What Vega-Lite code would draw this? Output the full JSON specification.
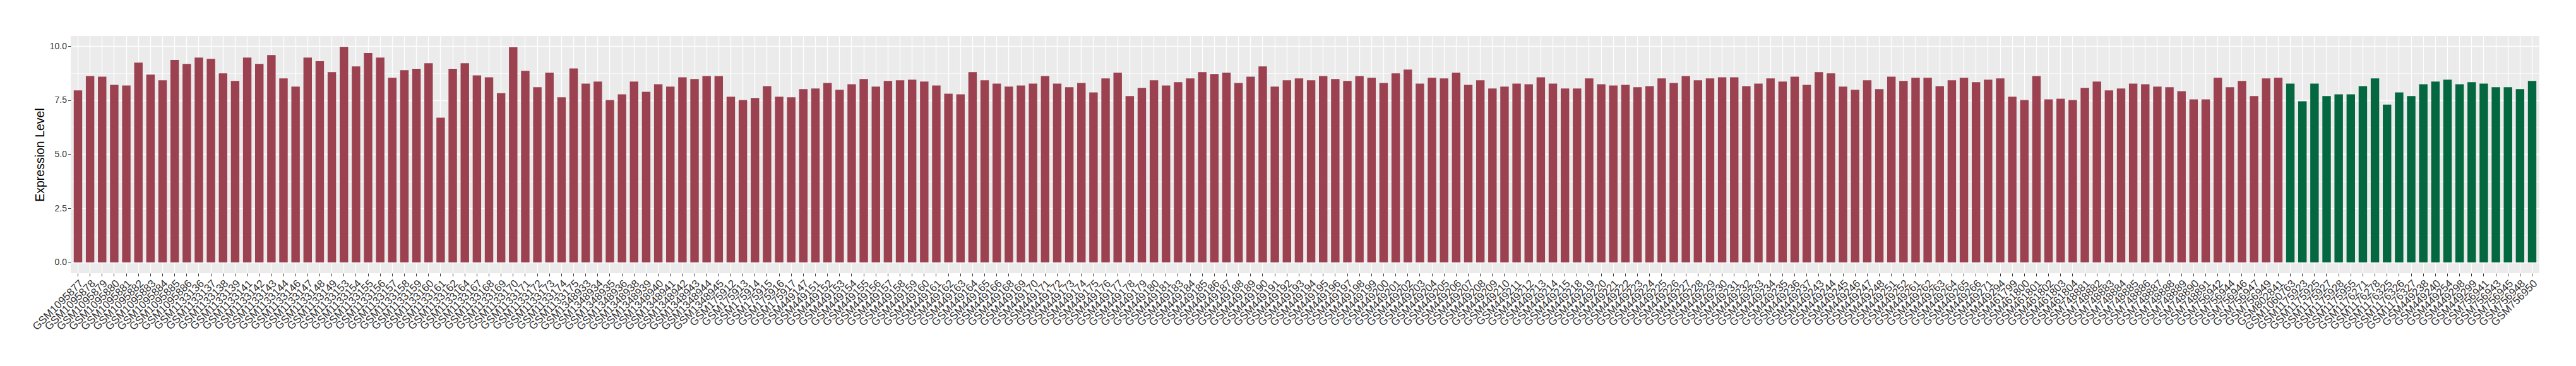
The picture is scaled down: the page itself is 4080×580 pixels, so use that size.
{
"$schema": "https://vega.github.io/schema/vega-lite/v6.json",
"width": 3910,
"height": 376,
"autosize": {"type": "none"},
"padding": {"left": 112, "top": 57, "right": 58, "bottom": 147},
"background": "white",
"config": {
  "view": {"fill": "#EBEBEB", "stroke": null},
  "axis": {"domain": false, "gridColor": "#FFFFFF", "tickColor": "#333333", "labelColor": "#4D4D4D", "labelFont": "Liberation Sans", "titleFont": "Liberation Sans"}
},
"data": {"values": [
{"sample":"GSM1095877","expression":7.95,"group":"Group 1"},
{"sample":"GSM1095878","expression":8.62,"group":"Group 1"},
{"sample":"GSM1095879","expression":8.59,"group":"Group 1"},
{"sample":"GSM1095880","expression":8.21,"group":"Group 1"},
{"sample":"GSM1095881","expression":8.18,"group":"Group 1"},
{"sample":"GSM1095882","expression":9.24,"group":"Group 1"},
{"sample":"GSM1095883","expression":8.68,"group":"Group 1"},
{"sample":"GSM1095884","expression":8.42,"group":"Group 1"},
{"sample":"GSM1095885","expression":9.36,"group":"Group 1"},
{"sample":"GSM1095886","expression":9.18,"group":"Group 1"},
{"sample":"GSM1133136","expression":9.47,"group":"Group 1"},
{"sample":"GSM1133137","expression":9.41,"group":"Group 1"},
{"sample":"GSM1133138","expression":8.74,"group":"Group 1"},
{"sample":"GSM1133139","expression":8.39,"group":"Group 1"},
{"sample":"GSM1133141","expression":9.47,"group":"Group 1"},
{"sample":"GSM1133142","expression":9.18,"group":"Group 1"},
{"sample":"GSM1133143","expression":9.59,"group":"Group 1"},
{"sample":"GSM1133144","expression":8.51,"group":"Group 1"},
{"sample":"GSM1133146","expression":8.13,"group":"Group 1"},
{"sample":"GSM1133147","expression":9.47,"group":"Group 1"},
{"sample":"GSM1133148","expression":9.30,"group":"Group 1"},
{"sample":"GSM1133149","expression":8.80,"group":"Group 1"},
{"sample":"GSM1133153","expression":9.97,"group":"Group 1"},
{"sample":"GSM1133154","expression":9.06,"group":"Group 1"},
{"sample":"GSM1133155","expression":9.68,"group":"Group 1"},
{"sample":"GSM1133156","expression":9.47,"group":"Group 1"},
{"sample":"GSM1133157","expression":8.54,"group":"Group 1"},
{"sample":"GSM1133158","expression":8.89,"group":"Group 1"},
{"sample":"GSM1133159","expression":8.95,"group":"Group 1"},
{"sample":"GSM1133160","expression":9.21,"group":"Group 1"},
{"sample":"GSM1133161","expression":6.69,"group":"Group 1"},
{"sample":"GSM1133162","expression":8.95,"group":"Group 1"},
{"sample":"GSM1133164","expression":9.21,"group":"Group 1"},
{"sample":"GSM1133167","expression":8.65,"group":"Group 1"},
{"sample":"GSM1133168","expression":8.56,"group":"Group 1"},
{"sample":"GSM1133169","expression":7.83,"group":"Group 1"},
{"sample":"GSM1133170","expression":9.95,"group":"Group 1"},
{"sample":"GSM1133171","expression":8.86,"group":"Group 1"},
{"sample":"GSM1133172","expression":8.10,"group":"Group 1"},
{"sample":"GSM1133173","expression":8.77,"group":"Group 1"},
{"sample":"GSM1133174","expression":7.63,"group":"Group 1"},
{"sample":"GSM1133175","expression":8.97,"group":"Group 1"},
{"sample":"GSM1348933","expression":8.27,"group":"Group 1"},
{"sample":"GSM1348934","expression":8.36,"group":"Group 1"},
{"sample":"GSM1348935","expression":7.51,"group":"Group 1"},
{"sample":"GSM1348936","expression":7.77,"group":"Group 1"},
{"sample":"GSM1348938","expression":8.36,"group":"Group 1"},
{"sample":"GSM1348939","expression":7.89,"group":"Group 1"},
{"sample":"GSM1348940","expression":8.24,"group":"Group 1"},
{"sample":"GSM1348941","expression":8.13,"group":"Group 1"},
{"sample":"GSM1348942","expression":8.56,"group":"Group 1"},
{"sample":"GSM1348943","expression":8.48,"group":"Group 1"},
{"sample":"GSM1348944","expression":8.62,"group":"Group 1"},
{"sample":"GSM1348945","expression":8.62,"group":"Group 1"},
{"sample":"GSM175912","expression":7.66,"group":"Group 1"},
{"sample":"GSM175913","expression":7.51,"group":"Group 1"},
{"sample":"GSM175914","expression":7.60,"group":"Group 1"},
{"sample":"GSM175915","expression":8.15,"group":"Group 1"},
{"sample":"GSM175916","expression":7.66,"group":"Group 1"},
{"sample":"GSM175917","expression":7.63,"group":"Group 1"},
{"sample":"GSM449147","expression":8.01,"group":"Group 1"},
{"sample":"GSM449151","expression":8.04,"group":"Group 1"},
{"sample":"GSM449152","expression":8.30,"group":"Group 1"},
{"sample":"GSM449153","expression":7.98,"group":"Group 1"},
{"sample":"GSM449154","expression":8.24,"group":"Group 1"},
{"sample":"GSM449155","expression":8.48,"group":"Group 1"},
{"sample":"GSM449156","expression":8.13,"group":"Group 1"},
{"sample":"GSM449157","expression":8.39,"group":"Group 1"},
{"sample":"GSM449158","expression":8.42,"group":"Group 1"},
{"sample":"GSM449159","expression":8.45,"group":"Group 1"},
{"sample":"GSM449160","expression":8.36,"group":"Group 1"},
{"sample":"GSM449161","expression":8.18,"group":"Group 1"},
{"sample":"GSM449162","expression":7.80,"group":"Group 1"},
{"sample":"GSM449163","expression":7.77,"group":"Group 1"},
{"sample":"GSM449164","expression":8.80,"group":"Group 1"},
{"sample":"GSM449165","expression":8.42,"group":"Group 1"},
{"sample":"GSM449166","expression":8.27,"group":"Group 1"},
{"sample":"GSM449168","expression":8.13,"group":"Group 1"},
{"sample":"GSM449169","expression":8.18,"group":"Group 1"},
{"sample":"GSM449170","expression":8.27,"group":"Group 1"},
{"sample":"GSM449171","expression":8.62,"group":"Group 1"},
{"sample":"GSM449172","expression":8.27,"group":"Group 1"},
{"sample":"GSM449173","expression":8.10,"group":"Group 1"},
{"sample":"GSM449174","expression":8.30,"group":"Group 1"},
{"sample":"GSM449175","expression":7.86,"group":"Group 1"},
{"sample":"GSM449176","expression":8.51,"group":"Group 1"},
{"sample":"GSM449177","expression":8.77,"group":"Group 1"},
{"sample":"GSM449178","expression":7.69,"group":"Group 1"},
{"sample":"GSM449179","expression":8.07,"group":"Group 1"},
{"sample":"GSM449180","expression":8.42,"group":"Group 1"},
{"sample":"GSM449181","expression":8.18,"group":"Group 1"},
{"sample":"GSM449183","expression":8.33,"group":"Group 1"},
{"sample":"GSM449184","expression":8.51,"group":"Group 1"},
{"sample":"GSM449185","expression":8.80,"group":"Group 1"},
{"sample":"GSM449186","expression":8.71,"group":"Group 1"},
{"sample":"GSM449187","expression":8.77,"group":"Group 1"},
{"sample":"GSM449188","expression":8.30,"group":"Group 1"},
{"sample":"GSM449189","expression":8.59,"group":"Group 1"},
{"sample":"GSM449190","expression":9.06,"group":"Group 1"},
{"sample":"GSM449191","expression":8.13,"group":"Group 1"},
{"sample":"GSM449192","expression":8.42,"group":"Group 1"},
{"sample":"GSM449193","expression":8.51,"group":"Group 1"},
{"sample":"GSM449194","expression":8.42,"group":"Group 1"},
{"sample":"GSM449195","expression":8.62,"group":"Group 1"},
{"sample":"GSM449196","expression":8.48,"group":"Group 1"},
{"sample":"GSM449197","expression":8.39,"group":"Group 1"},
{"sample":"GSM449198","expression":8.62,"group":"Group 1"},
{"sample":"GSM449199","expression":8.54,"group":"Group 1"},
{"sample":"GSM449200","expression":8.30,"group":"Group 1"},
{"sample":"GSM449201","expression":8.74,"group":"Group 1"},
{"sample":"GSM449202","expression":8.92,"group":"Group 1"},
{"sample":"GSM449203","expression":8.27,"group":"Group 1"},
{"sample":"GSM449204","expression":8.54,"group":"Group 1"},
{"sample":"GSM449205","expression":8.51,"group":"Group 1"},
{"sample":"GSM449206","expression":8.77,"group":"Group 1"},
{"sample":"GSM449207","expression":8.21,"group":"Group 1"},
{"sample":"GSM449208","expression":8.42,"group":"Group 1"},
{"sample":"GSM449209","expression":8.04,"group":"Group 1"},
{"sample":"GSM449210","expression":8.13,"group":"Group 1"},
{"sample":"GSM449211","expression":8.27,"group":"Group 1"},
{"sample":"GSM449212","expression":8.24,"group":"Group 1"},
{"sample":"GSM449213","expression":8.56,"group":"Group 1"},
{"sample":"GSM449214","expression":8.27,"group":"Group 1"},
{"sample":"GSM449215","expression":8.04,"group":"Group 1"},
{"sample":"GSM449218","expression":8.04,"group":"Group 1"},
{"sample":"GSM449219","expression":8.51,"group":"Group 1"},
{"sample":"GSM449220","expression":8.24,"group":"Group 1"},
{"sample":"GSM449221","expression":8.18,"group":"Group 1"},
{"sample":"GSM449222","expression":8.21,"group":"Group 1"},
{"sample":"GSM449223","expression":8.10,"group":"Group 1"},
{"sample":"GSM449224","expression":8.15,"group":"Group 1"},
{"sample":"GSM449225","expression":8.51,"group":"Group 1"},
{"sample":"GSM449226","expression":8.30,"group":"Group 1"},
{"sample":"GSM449227","expression":8.62,"group":"Group 1"},
{"sample":"GSM449228","expression":8.42,"group":"Group 1"},
{"sample":"GSM449229","expression":8.51,"group":"Group 1"},
{"sample":"GSM449230","expression":8.56,"group":"Group 1"},
{"sample":"GSM449231","expression":8.56,"group":"Group 1"},
{"sample":"GSM449232","expression":8.15,"group":"Group 1"},
{"sample":"GSM449233","expression":8.27,"group":"Group 1"},
{"sample":"GSM449234","expression":8.51,"group":"Group 1"},
{"sample":"GSM449235","expression":8.36,"group":"Group 1"},
{"sample":"GSM449236","expression":8.59,"group":"Group 1"},
{"sample":"GSM449237","expression":8.21,"group":"Group 1"},
{"sample":"GSM449243","expression":8.80,"group":"Group 1"},
{"sample":"GSM449244","expression":8.74,"group":"Group 1"},
{"sample":"GSM449245","expression":8.13,"group":"Group 1"},
{"sample":"GSM449246","expression":7.98,"group":"Group 1"},
{"sample":"GSM449247","expression":8.42,"group":"Group 1"},
{"sample":"GSM449248","expression":8.01,"group":"Group 1"},
{"sample":"GSM449251","expression":8.59,"group":"Group 1"},
{"sample":"GSM449252","expression":8.39,"group":"Group 1"},
{"sample":"GSM449261","expression":8.54,"group":"Group 1"},
{"sample":"GSM449262","expression":8.54,"group":"Group 1"},
{"sample":"GSM449263","expression":8.15,"group":"Group 1"},
{"sample":"GSM449264","expression":8.42,"group":"Group 1"},
{"sample":"GSM449265","expression":8.54,"group":"Group 1"},
{"sample":"GSM449266","expression":8.33,"group":"Group 1"},
{"sample":"GSM449271","expression":8.45,"group":"Group 1"},
{"sample":"GSM449294","expression":8.51,"group":"Group 1"},
{"sample":"GSM461799","expression":7.66,"group":"Group 1"},
{"sample":"GSM461800","expression":7.51,"group":"Group 1"},
{"sample":"GSM461801","expression":8.62,"group":"Group 1"},
{"sample":"GSM461802","expression":7.54,"group":"Group 1"},
{"sample":"GSM461803","expression":7.57,"group":"Group 1"},
{"sample":"GSM461804","expression":7.51,"group":"Group 1"},
{"sample":"GSM748881","expression":8.07,"group":"Group 1"},
{"sample":"GSM748882","expression":8.36,"group":"Group 1"},
{"sample":"GSM748883","expression":7.95,"group":"Group 1"},
{"sample":"GSM748884","expression":8.04,"group":"Group 1"},
{"sample":"GSM748885","expression":8.27,"group":"Group 1"},
{"sample":"GSM748886","expression":8.24,"group":"Group 1"},
{"sample":"GSM748887","expression":8.13,"group":"Group 1"},
{"sample":"GSM748888","expression":8.10,"group":"Group 1"},
{"sample":"GSM748889","expression":7.92,"group":"Group 1"},
{"sample":"GSM748890","expression":7.54,"group":"Group 1"},
{"sample":"GSM748891","expression":7.54,"group":"Group 1"},
{"sample":"GSM756942","expression":8.54,"group":"Group 1"},
{"sample":"GSM756944","expression":8.10,"group":"Group 1"},
{"sample":"GSM756946","expression":8.39,"group":"Group 1"},
{"sample":"GSM756947","expression":7.69,"group":"Group 1"},
{"sample":"GSM756949","expression":8.51,"group":"Group 1"},
{"sample":"GSM802841","expression":8.54,"group":"Group 1"},
{"sample":"GSM1060763","expression":8.27,"group":"Group 2"},
{"sample":"GSM1175923","expression":7.45,"group":"Group 2"},
{"sample":"GSM1175925","expression":8.27,"group":"Group 2"},
{"sample":"GSM1175927","expression":7.69,"group":"Group 2"},
{"sample":"GSM1175928","expression":7.77,"group":"Group 2"},
{"sample":"GSM1175955","expression":7.77,"group":"Group 2"},
{"sample":"GSM1176271","expression":8.15,"group":"Group 2"},
{"sample":"GSM1176278","expression":8.51,"group":"Group 2"},
{"sample":"GSM1176325","expression":7.30,"group":"Group 2"},
{"sample":"GSM1176326","expression":7.86,"group":"Group 2"},
{"sample":"GSM1176327","expression":7.69,"group":"Group 2"},
{"sample":"GSM449238","expression":8.24,"group":"Group 2"},
{"sample":"GSM449240","expression":8.36,"group":"Group 2"},
{"sample":"GSM449254","expression":8.45,"group":"Group 2"},
{"sample":"GSM449298","expression":8.24,"group":"Group 2"},
{"sample":"GSM449299","expression":8.33,"group":"Group 2"},
{"sample":"GSM756941","expression":8.27,"group":"Group 2"},
{"sample":"GSM756943","expression":8.10,"group":"Group 2"},
{"sample":"GSM756945","expression":8.10,"group":"Group 2"},
{"sample":"GSM756948","expression":8.01,"group":"Group 2"},
{"sample":"GSM756950","expression":8.39,"group":"Group 2"}
]},
"mark": {"type": "bar"},
"encoding": {
  "x": {
    "field": "sample", "type": "nominal", "sort": null,
    "scale": {"paddingInner": 0.3, "paddingOuter": 0.25},
    "axis": {"title": null, "labelAngle": -45, "labelAlign": "right", "labelBaseline": "top", "labelFontSize": 17, "labelColor": "#333333", "labelOverlap": false, "labelPadding": 3, "tickSize": 4.5, "tickWidth": 1, "bandPosition": 0.5, "grid": true, "gridWidth": 1.3, "labelLimit": 0}
  },
  "y": {
    "field": "expression", "type": "quantitative",
    "scale": {"domain": [-0.5, 10.47], "nice": false, "zero": false},
    "axis": {
      "title": "Expression Level", "titleFontSize": 19.5, "titleFontWeight": "normal", "titleColor": "#000000", "titlePadding": 5,
      "values": [0, 1.25, 2.5, 3.75, 5, 6.25, 7.5, 8.75, 10],
      "labelExpr": "datum.value % 2.5 === 0 ? format(datum.value, '.1f') : ''",
      "labelFontSize": 14, "labelColor": "#333333", "labelPadding": 2,
      "tickSize": 4.5, "tickWidth": 1,
      "tickOpacity": {"condition": {"test": "datum.value % 2.5 !== 0", "value": 0}, "value": 1},
      "grid": true,
      "gridWidth": {"condition": {"test": "datum.value % 2.5 !== 0", "value": 0.6}, "value": 1.3}
    }
  },
  "color": {
    "field": "group", "type": "nominal",
    "scale": {"domain": ["Group 1", "Group 2"], "range": ["#9B4150", "#03673F"]},
    "legend": null
  }
}
}
